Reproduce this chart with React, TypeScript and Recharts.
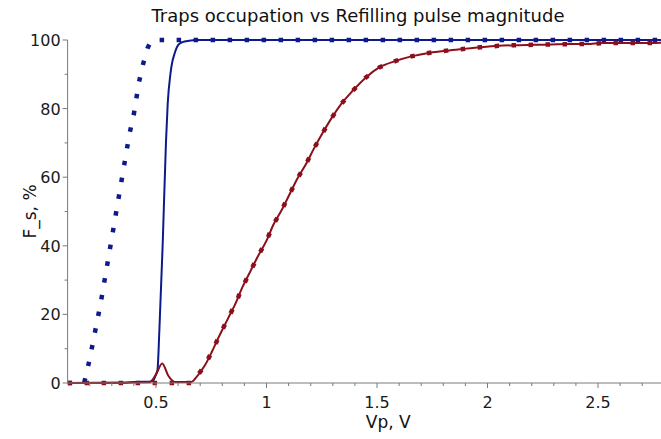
import React from 'react';
import { LineChart, Line, XAxis, YAxis, Label } from 'recharts';

// Blue fitted curve (solid)
const blueFitX = [0.1, 0.35, 0.4, 0.47, 0.485, 0.5, 0.507, 0.515, 0.53, 0.545, 0.553, 0.565, 0.575, 0.582, 0.59, 0.6, 0.62, 0.65, 0.68, 2.785];
const blueFitY = [0, 0, 0.3, 0.4, 0.6, 2.5, 4, 15, 40, 70, 81.5, 90, 94, 95.6, 97.2, 98.5, 99.4, 99.8, 100, 100];

// Blue measured curve (dotted)
const blueDotX = [0.1, 0.175, 0.2, 0.25, 0.3, 0.35, 0.38, 0.4, 0.423, 0.44, 0.461, 0.475, 0.49, 2.785];
const blueDotY = [0, 0, 7, 23.4, 42.3, 61.3, 72.6, 78.5, 87.7, 92.6, 97.5, 99.4, 100, 100];

// Red fitted curve (solid)
const redFitX = [0.1, 0.47, 0.5, 0.528, 0.555, 0.586, 0.66, 0.68, 0.72, 0.755, 0.79, 0.825, 0.86, 0.89, 0.925, 0.96, 1.0, 1.03, 1.07, 1.105, 1.14, 1.18, 1.215, 1.255, 1.295, 1.34, 1.39, 1.45, 1.51, 1.585, 1.66, 1.74, 1.815, 1.89, 1.97, 2.05, 2.13, 2.21, 2.29, 2.37, 2.45, 2.52, 2.6, 2.7, 2.785];
const redFitY = [0, 0.2, 2.5, 5.7, 2.2, 0.3, 0.3, 1.5, 5, 9.4, 14.2, 18.7, 23.2, 27.8, 32.3, 36.8, 41.5, 46, 50.6, 55.1, 59.6, 64, 68.4, 73, 77.3, 81.5, 85.2, 89.1, 92, 93.9, 95.3, 96.3, 96.9, 97.4, 97.9, 98.3, 98.5, 98.6, 98.7, 98.8, 98.8, 99.1, 99.1, 99.1, 99.2];

// Red measured curve (dotted)
const redDotX = [0.1, 0.66, 0.68, 0.72, 0.755, 0.79, 0.825, 0.86, 0.89, 0.925, 0.96, 1.0, 1.03, 1.07, 1.105, 1.14, 1.18, 1.215, 1.255, 1.295, 1.34, 1.39, 1.45, 1.51, 1.585, 1.66, 1.74, 1.815, 1.89, 1.97, 2.05, 2.13, 2.21, 2.29, 2.37, 2.45, 2.52, 2.6, 2.7, 2.785];
const redDotY = [0, 0, 1.5, 5, 9.4, 14.2, 18.7, 23.2, 27.8, 32.3, 36.8, 41.5, 46, 50.6, 55.1, 59.6, 64, 68.4, 73, 77.3, 81.5, 85.2, 89.1, 92, 93.9, 95.3, 96.3, 96.9, 97.4, 97.9, 98.3, 98.5, 98.6, 98.7, 98.8, 98.8, 99.1, 99.1, 99.1, 99.2];

const xTicks = [0.2, 0.3, 0.4, 0.5, 0.6, 0.7, 0.8, 0.9, 1, 1.1, 1.2, 1.3, 1.4, 1.5, 1.6, 1.7, 1.8, 1.9, 2, 2.1, 2.2, 2.3, 2.4, 2.5, 2.6, 2.7];
const yTicks = [0, 10, 20, 30, 40, 50, 60, 70, 80, 90, 100];

const title = 'Traps occupation vs Refilling pulse magnitude';
const xLabel = 'Vp, V';
const yLabel = 'F_s, %';

const BLUE = '#0d1a8c';
const RED = '#8c0f1c';
const AXIS = '#7a7a7a';
const FONT = 'DejaVu Sans, Verdana, sans-serif';

const pts = (xs: number[], ys: number[]) => xs.map((x, i) => ({ x, y: ys[i] }));

const isMajorX = (v: number) => Math.abs(v * 2 - Math.round(v * 2)) < 1e-6;

const XTick = (props: any) => {
  const { x, y, payload } = props;
  const major = isMajorX(payload.value);
  return (
    <g>
      <line x1={x} x2={x} y1={y} y2={y + (major ? 5 : 3)} stroke={AXIS} strokeWidth={1} />
      {major && (
        <text x={x} y={y + 25} textAnchor="middle" fontFamily={FONT} fontSize={16} fill="#1a1a1a">
          {String(payload.value)}
        </text>
      )}
    </g>
  );
};

const YTick = (props: any) => {
  const { x, y, payload } = props;
  const major = payload.value % 20 === 0;
  return (
    <g>
      <line x1={x} x2={x - (major ? 5 : 3)} y1={y} y2={y} stroke={AXIS} strokeWidth={1} />
      {major && (
        <text x={x - 7} y={y + 6} textAnchor="end" fontFamily={FONT} fontSize={16} fill="#1a1a1a">
          {String(payload.value)}
        </text>
      )}
    </g>
  );
};

export default function App() {
  return (
    <div style={{ position: 'absolute', left: 0, top: 0, width: 661, height: 439, background: '#fff' }}>
      <div
        style={{
          position: 'absolute',
          left: 0,
          width: 716,
          top: 5,
          textAlign: 'center',
          fontFamily: FONT,
          fontSize: 18,
          color: '#111',
          whiteSpace: 'nowrap',
        }}
      >
        {title}
      </div>
      <LineChart width={661} height={439} margin={{ top: 40, right: 0, bottom: 0, left: 0 }}>
        <XAxis
          type="number"
          dataKey="x"
          domain={[0.1, 2.785]}
          ticks={xTicks}
          interval={0}
          tick={<XTick />}
          tickSize={0}
          tickMargin={0}
          tickLine={false}
          axisLine={{ stroke: AXIS, strokeWidth: 1 }}
          height={56}
          allowDataOverflow
        >
          <Label
            content={(p: any) => {
              const vb = p.viewBox;
              return (
                <text x={vb.x + vb.width / 2 + 24} y={vb.y + 45} textAnchor="middle" fontFamily={FONT} fontSize={17} fill="#111">
                  {xLabel}
                </text>
              );
            }}
          />
        </XAxis>
        <YAxis
          type="number"
          dataKey="y"
          domain={[0, 100]}
          ticks={yTicks}
          interval={0}
          tick={<YTick />}
          tickSize={0}
          tickMargin={0}
          tickLine={false}
          axisLine={{ stroke: AXIS, strokeWidth: 1 }}
          width={67.6}
        >
          <Label
            content={(p: any) => {
              const vb = p.viewBox;
              const cx = vb.x + 30;
              const cy = vb.y + vb.height / 2;
              return (
                <text x={cx} y={cy} transform={`rotate(-90 ${cx} ${cy})`} dy={6} textAnchor="middle" fontFamily={FONT} fontSize={17} fill="#111">
                  {yLabel}
                </text>
              );
            }}
          />
        </YAxis>
        <Line data={pts(blueDotX, blueDotY)} dataKey="y" type="linear" stroke={BLUE} strokeWidth={4.5} strokeDasharray="4.5 12.5" strokeLinecap="butt" dot={false} isAnimationActive={false} />
        <Line data={pts(blueFitX, blueFitY)} dataKey="y" type="monotone" stroke={BLUE} strokeWidth={2} dot={false} isAnimationActive={false} />
        <Line data={pts(redDotX, redDotY)} dataKey="y" type="linear" stroke={RED} strokeWidth={4.5} strokeDasharray="4.5 12.5" strokeLinecap="butt" dot={false} isAnimationActive={false} />
        <Line data={pts(redFitX, redFitY)} dataKey="y" type="monotone" stroke={RED} strokeWidth={2} dot={false} isAnimationActive={false} />
      </LineChart>
    </div>
  );
}
